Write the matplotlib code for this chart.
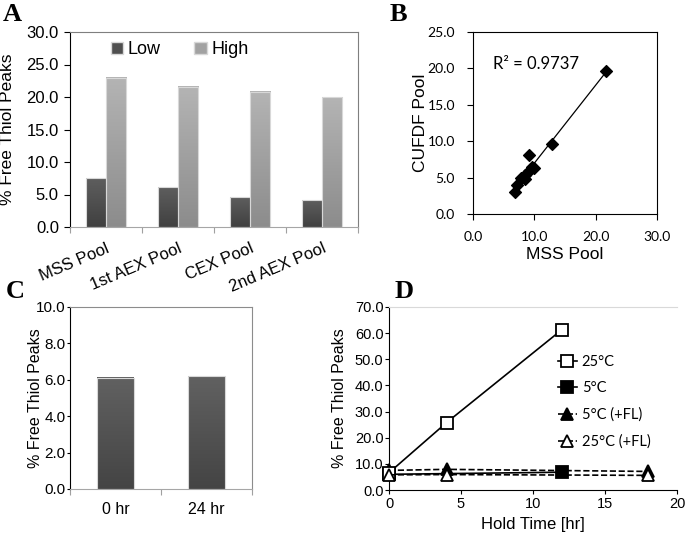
import numpy as np
import matplotlib
matplotlib.use("Agg")
import matplotlib.pyplot as plt
from matplotlib.colors import LinearSegmentedColormap
from matplotlib.patches import Patch

plt.rcParams['font.family'] = ['Liberation Sans', 'DejaVu Sans']

# ---- Panel A: free thiol by pool ----
pools = ["MSS Pool", "1st AEX Pool", "CEX Pool", "2nd AEX Pool"]
low_vals = [7.5, 6.1, 4.6, 4.1]
high_vals = [23.0, 21.6, 20.8, 20.0]

# ---- Panel B: CUFDF vs MSS ----
mss_x = [6.9, 7.1, 7.8, 8.4, 8.5, 9.1, 9.2, 9.6, 9.9, 12.9, 21.7]
cufdf_y = [3.0, 4.0, 4.9, 4.8, 5.4, 5.9, 8.1, 6.4, 6.3, 9.6, 19.6]
r2_label = "R² = 0.9737"

# ---- Panel C: hold ----
hold_labels = ["0 hr", "24 hr"]
hold_vals = [6.1, 6.2]

# ---- Panel D: hold time series ----
t_25 = [0, 4, 12]
v_25 = [6.6, 25.8, 61.3]
t_5 = [0, 12]
v_5 = [6.0, 6.8]
t_5fl = [0, 4, 18]
v_5fl = [7.5, 7.9, 7.1]
t_25fl = [0, 4, 18]
v_25fl = [5.8, 5.9, 5.6]

W, H = 685, 536
fig = plt.figure(figsize=(W / 100, H / 100), dpi=100)


def box(x0, y0, x1, y1):
    # pixel box -> figure fraction
    return [x0 / W, 1 - y1 / H, (x1 - x0) / W, (y1 - y0) / H]


def grad_fill(ax, bars, bottom_c, top_c):
    cmap = LinearSegmentedColormap.from_list("g", [bottom_c, top_c])
    g = np.linspace(0, 1, 128).reshape(-1, 1)
    for b in bars:
        x0, y0 = b.get_xy()
        ax.imshow(g, extent=(x0, x0 + b.get_width(), y0, y0 + b.get_height()),
                  origin='lower', cmap=cmap, aspect='auto', zorder=2,
                  interpolation='bilinear')


# ================= A =================
axA = fig.add_axes(box(70, 32, 358, 227))
xA = np.arange(len(pools))
bw = 0.28
bl = axA.bar(xA - bw / 2, low_vals, bw, facecolor='none', edgecolor='#d8d8d8', lw=0.8, zorder=3)
bh = axA.bar(xA + bw / 2, high_vals, bw, facecolor='none', edgecolor='#d8d8d8', lw=0.8, zorder=3)
grad_fill(axA, bl, '#404040', '#5e5e5e')
grad_fill(axA, bh, '#8c8c8c', '#b4b4b4')
axA.set_xlim(-0.5, len(pools) - 0.5)
axA.set_ylim(0, 30)
axA.set_yticks(np.arange(0, 30.1, 5))
axA.set_yticklabels([f"{v:.1f}" for v in np.arange(0, 30.1, 5)], fontsize=12)
axA.set_xticks(np.arange(-0.5, len(pools), 1.0))
axA.set_xticklabels([])
axA.set_xticks(xA, minor=True)
axA.set_xticklabels(pools, minor=True, fontsize=12, rotation=23, ha='right',
                    rotation_mode='anchor')
axA.tick_params(axis='x', which='major', length=4, color='#a0a0a0')
axA.tick_params(axis='x', which='minor', length=0, pad=10)
axA.tick_params(axis='y', length=4, pad=4)
for s in ['top', 'right']:
    axA.spines[s].set_color('#7f7f7f')
axA.spines['bottom'].set_color('#a6a6a6')
axA.set_ylabel("% Free Thiol Peaks", fontsize=12.5)
axA.yaxis.set_label_coords(-0.19, 0.5)
axA.legend(handles=[Patch(facecolor='#4f4f4f', edgecolor='#d8d8d8', label='Low'),
                    Patch(facecolor='#a2a2a2', edgecolor='#d8d8d8', label='High')],
           loc='upper left', bbox_to_anchor=(0.085, 1.035), ncol=2, frameon=False,
           fontsize=13, handlelength=0.7, handleheight=0.7, handletextpad=0.25,
           columnspacing=1.85)

# ================= B =================
axB = fig.add_axes(box(473, 32, 657, 214))
axB.scatter(mss_x, cufdf_y, marker='D', s=36, color='black', zorder=3)
k, c = np.polyfit(mss_x, cufdf_y, 1)
xs = np.array([min(mss_x), max(mss_x)])
axB.plot(xs, k * xs + c, color='black', lw=0.9, zorder=2)
axB.set_xlim(0, 30)
axB.set_ylim(0, 25)
axB.set_xticks([0, 10, 20, 30])
axB.set_yticks(np.arange(0, 25.1, 5))
axB.set_xticklabels([f"{v:.1f}" for v in [0, 10, 20, 30]], fontsize=10, family='Lato')
axB.set_yticklabels([f"{v:.1f}" for v in np.arange(0, 25.1, 5)], fontsize=10, family='Lato')
axB.tick_params(axis='y', length=4, pad=9)
axB.tick_params(axis='x', length=4, pad=8)
axB.set_xlabel("MSS Pool", fontsize=12.5)
axB.xaxis.set_label_coords(0.5, -0.18)
axB.set_ylabel("CUFDF Pool", fontsize=12.5)
axB.yaxis.set_label_coords(-0.245, 0.5)
axB.text(3.3, 19.9, r2_label, fontsize=12, family='Lato', va='baseline')

# ================= C =================
axC = fig.add_axes(box(70, 307, 252, 489))
xC = np.arange(len(hold_labels))
bc = axC.bar(xC, hold_vals, 0.4, facecolor='none', edgecolor='#d8d8d8', lw=0.8, zorder=3)
grad_fill(axC, bc, '#444444', '#616161')
axC.set_xlim(-0.5, len(hold_labels) - 0.5)
axC.set_ylim(0, 10)
axC.set_yticks(np.arange(0, 10.1, 2))
axC.set_yticklabels([f"{v:.1f}" for v in np.arange(0, 10.1, 2)], fontsize=11)
axC.set_xticks([-0.5, 0.5, 1.5])
axC.set_xticklabels([])
axC.set_xticks(xC, minor=True)
axC.set_xticklabels(hold_labels, minor=True, fontsize=11.5)
axC.tick_params(axis='x', which='major', length=4, color='#a0a0a0')
axC.tick_params(axis='x', which='minor', length=0, pad=9)
axC.tick_params(axis='y', length=2, pad=1)
for s in ['top', 'right']:
    axC.spines[s].set_color('#8c8c8c')
axC.spines['bottom'].set_color('#a6a6a6')
axC.set_ylabel("% Free Thiol Peaks", fontsize=11.5)
axC.yaxis.set_label_coords(-0.15, 0.5)

# ================= D =================
axD = fig.add_axes(box(389, 307, 677, 490))
kw = dict(color='black', lw=1.2, markersize=8, markeredgewidth=1.3)
axD.plot(t_25, v_25, '-s', mfc='white', mec='black', label='25°C', zorder=4, **kw)
axD.plot(t_5, v_5, '-s', mfc='black', mec='black', label='5°C', zorder=3, **kw)
axD.plot(t_5fl, v_5fl, '--^', mfc='black', mec='black', label='5°C (+FL)', zorder=3, **kw)
axD.plot(t_25fl, v_25fl, '--^', mfc='white', mec='black', label='25°C (+FL)', zorder=4, **kw)
axD.set_xlim(0, 20)
axD.set_ylim(0, 70)
axD.set_xticks([0, 5, 10, 15, 20])
axD.set_xticklabels(["0", "5", "10", "15", "20"], fontsize=10.5)
axD.set_yticks(np.arange(0, 70.1, 10))
axD.set_yticklabels([f"{v:.1f}" for v in np.arange(0, 70.1, 10)], fontsize=10.5)
axD.tick_params(axis='y', length=3, pad=1)
axD.tick_params(axis='x', length=3, pad=2)
axD.spines['right'].set_visible(False)
axD.spines['top'].set_color('#d9d9d9')
axD.set_xlabel("Hold Time [hr]", fontsize=12)
axD.xaxis.set_label_coords(0.5, -0.145)
axD.set_ylabel("% Free Thiol Peaks", fontsize=11.5)
axD.yaxis.set_label_coords(-0.145, 0.5)
for ln in axD.lines:
    ln.set_clip_on(False)
axD.legend(loc='upper left', bbox_to_anchor=(0.54, 0.81), frameon=False,
           prop={'family': 'Lato', 'size': 10.5}, handlelength=1.3,
           handletextpad=0.35, labelspacing=0.85, numpoints=1)

# panel letters
for letter, px, py in [("A", 3, 21), ("B", 390, 21), ("C", 6, 298), ("D", 395, 298)]:
    fig.text(px / W, 1 - py / H, letter, fontsize=19, fontweight='bold',
             family='Liberation Serif', va='baseline')

fig.savefig("out.png", dpi=100)
